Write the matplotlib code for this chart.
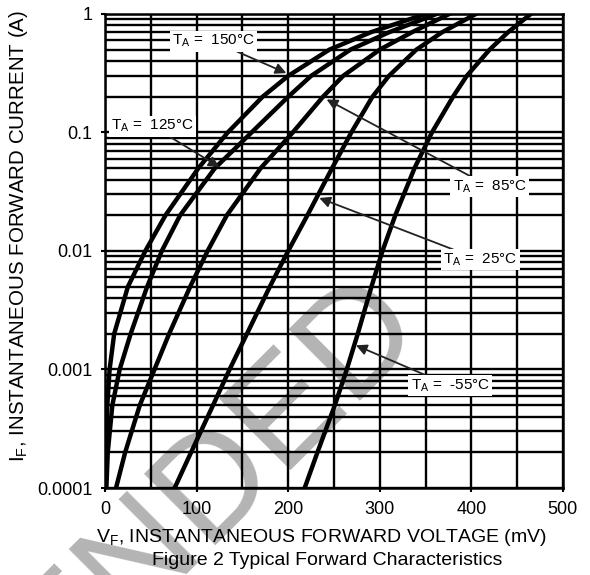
import numpy as np
import matplotlib.pyplot as plt
from matplotlib.ticker import FixedLocator, NullFormatter

plt.rcParams['font.family'] = ['Liberation Sans', 'DejaVu Sans']
plt.rcParams['mathtext.fontset'] = 'custom'
plt.rcParams['mathtext.rm'] = 'Liberation Sans'
plt.rcParams['mathtext.it'] = 'Liberation Sans'

# forward current (A) and read-off forward voltage (mV) for each temperature
current = [1e-4, 2e-4, 5e-4, 1e-3, 2e-3, 5e-3, 1e-2, 2e-2, 5e-2, 0.1, 0.2, 0.3, 0.5, 0.7, 1.0]
vf_150 = [0.5, 1, 2.5, 5, 10, 25, 44, 66, 102, 134, 172, 200, 245, 290, 350]
vf_125 = [1.5, 3, 8, 16, 28, 46, 62, 82, 120, 160, 200, 225, 268, 310, 362]
vf_85 = [12, 22, 38, 54, 70, 93, 112, 133, 170, 205, 238, 260, 300, 335, 376]
vf_25 = [76, 94, 118, 136, 155, 180, 200, 221, 248, 269, 292, 310, 340, 368, 405]
vf_m55 = [218, 232, 251, 264, 276, 291, 303, 317, 338, 357, 380, 395, 420, 440, 465]

y_ticks = [1e-4, 1e-3, 1e-2, 1e-1, 1]
y_tick_labels = ['0.0001', '0.001', '0.01', '0.1', '1']

# label text, label position (mV, A), arrow tip (mV, A)
labels = ['150°C', '125°C', '85°C', '25°C', '-55°C']
label_pos = [(118, 0.59), (52, 0.113), (420, 0.035), (410, 0.0084), (377, 0.00073)]
arrow_tip = [(198, 0.317), (125, 0.051), (242, 0.19), (234, 0.028), (274, 0.0016)]

fig = plt.figure(figsize=(5.9, 5.75), dpi=100)
ax = fig.add_axes([0.178, 0.1513, 0.776, 0.8244])

ax.set_yscale('log')
ax.set_xlim(0, 500)
ax.set_ylim(1e-4, 1)

# watermark, under the grid
ax.text(0.364, 0.165, 'ENDED', transform=fig.transFigure, fontsize=106,
        color='#b4b4b4', rotation=45, ha='center', va='center',
        rotation_mode='anchor', zorder=1, clip_on=False)

ax.xaxis.set_major_locator(FixedLocator(range(0, 501, 100)))
ax.xaxis.set_minor_locator(FixedLocator(range(50, 500, 100)))
ax.yaxis.set_major_locator(FixedLocator(y_ticks))
ax.set_yticklabels(y_tick_labels)
minor_y = [m * 10.0 ** e for e in range(-4, 0) for m in range(2, 10)]
ax.yaxis.set_minor_locator(FixedLocator(minor_y))
ax.yaxis.set_minor_formatter(NullFormatter())
ax.grid(which='both', color='black', linewidth=1.7)
ax.tick_params(which='major', length=3, width=1.5, labelsize=13, pad=6)
ax.tick_params(which='minor', length=0)
for s in ax.spines.values():
    s.set_linewidth(1.8)

for v in [vf_150, vf_125, vf_85, vf_25, vf_m55]:
    ax.plot(v, current, color='black', linewidth=3.2, solid_joinstyle='round', zorder=3)

for lab, pos, tip in zip(labels, label_pos, arrow_tip):
    ax.annotate(r'T$_\mathregular{A}$ =  ' + lab, xy=tip, xytext=pos,
                fontsize=11, ha='center', va='center', zorder=5,
                bbox=dict(boxstyle='square,pad=0.15', fc='white', ec='none'),
                arrowprops=dict(arrowstyle='-|>', color='#222222', lw=1.3,
                                mutation_scale=16, shrinkA=0, shrinkB=0))

ax.set_xlabel(r'V$_\mathregular{F}$, INSTANTANEOUS FORWARD VOLTAGE (mV)', fontsize=14)
ax.xaxis.set_label_coords(0.473, -0.082)
ax.set_ylabel(r'I$_\mathregular{F}$, INSTANTANEOUS FORWARD CURRENT (A)', fontsize=14.8)
ax.yaxis.set_label_coords(-0.163, 0.532)
fig.text(0.555, 0.018, 'Figure 2 Typical Forward Characteristics', fontsize=14, ha='center')

fig.savefig('out.png', dpi=100)
